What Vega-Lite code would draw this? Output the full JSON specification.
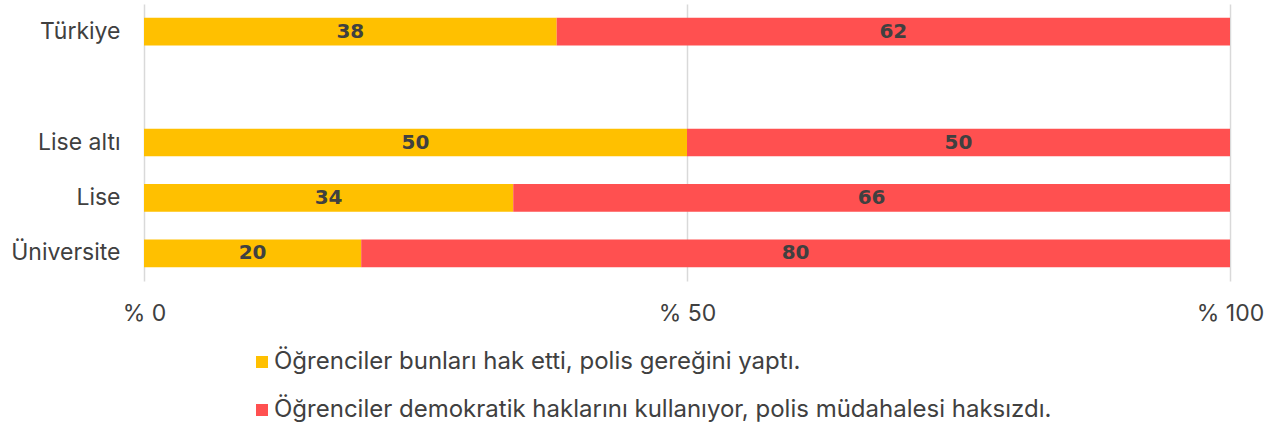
{
  "$schema": "https://vega.github.io/schema/vega-lite/v6.json",
  "width": 1086,
  "height": 277,
  "autosize": {"type": "none"},
  "padding": {"left": 144, "top": 4, "right": 57, "bottom": 148},
  "background": "white",
  "config": {
    "view": {"stroke": null},
    "font": "Inter",
    "axis": {"labelColor": "#404040", "labelFontSize": 23, "labelFont": "Inter"},
    "legend": {"labelColor": "#404040", "labelFontSize": 24, "labelFont": "Inter"}
  },
  "data": {
    "values": [
      {"grup": "Türkiye", "cevap": "Öğrenciler bunları hak etti, polis gereğini yaptı.", "deger": 38},
      {"grup": "Türkiye", "cevap": "Öğrenciler demokratik haklarını kullanıyor, polis müdahalesi haksızdı.", "deger": 62},
      {"grup": "Lise altı", "cevap": "Öğrenciler bunları hak etti, polis gereğini yaptı.", "deger": 50},
      {"grup": "Lise altı", "cevap": "Öğrenciler demokratik haklarını kullanıyor, polis müdahalesi haksızdı.", "deger": 50},
      {"grup": "Lise", "cevap": "Öğrenciler bunları hak etti, polis gereğini yaptı.", "deger": 34},
      {"grup": "Lise", "cevap": "Öğrenciler demokratik haklarını kullanıyor, polis müdahalesi haksızdı.", "deger": 66},
      {"grup": "Üniversite", "cevap": "Öğrenciler bunları hak etti, polis gereğini yaptı.", "deger": 20},
      {"grup": "Üniversite", "cevap": "Öğrenciler demokratik haklarını kullanıyor, polis müdahalesi haksızdı.", "deger": 80}
    ]
  },
  "transform": [
    {"stack": "deger", "groupby": ["grup"], "sort": [{"field": "cevap", "order": "ascending"}], "as": ["bas", "son"]},
    {"calculate": "(datum.bas + datum.son) / 2", "as": "orta"}
  ],
  "encoding": {
    "y": {
      "field": "grup",
      "type": "nominal",
      "scale": {"domain": ["Türkiye", " ", "Lise altı", "Lise", "Üniversite"], "paddingInner": 0.5, "paddingOuter": 0.25},
      "axis": {"title": null, "ticks": false, "domain": false, "labelPadding": 24}
    }
  },
  "layer": [
    {
      "mark": {"type": "bar"},
      "encoding": {
        "x": {
          "field": "bas",
          "type": "quantitative",
          "scale": {"domain": [0, 100]},
          "axis": {
            "title": null,
            "values": [0, 50, 100],
            "labelExpr": "'% ' + datum.value",
            "labelFlush": false,
            "labelBound": false,
            "labelOverlap": false,
            "ticks": false,
            "domain": false,
            "grid": true,
            "gridColor": "#d9d9d9",
            "gridWidth": 1.5,
            "labelPadding": 21
          }
        },
        "x2": {"field": "son"},
        "color": {
          "field": "cevap",
          "type": "nominal",
          "scale": {
            "domain": ["Öğrenciler bunları hak etti, polis gereğini yaptı.", "Öğrenciler demokratik haklarını kullanıyor, polis müdahalesi haksızdı."],
            "range": ["#FFC000", "#FF5050"]
          },
          "legend": {
            "title": null,
            "orient": "none",
            "legendX": 106,
            "legendY": 346,
            "direction": "vertical",
            "symbolType": "square",
            "symbolSize": 144,
            "symbolStrokeWidth": 0,
            "labelLimit": 1000,
            "rowPadding": 24,
            "labelOffset": 0
          }
        }
      }
    },
    {
      "mark": {"type": "text", "font": "DejaVu Sans", "fontWeight": "bold", "fontSize": 20, "color": "#404040", "baseline": "middle", "align": "center"},
      "encoding": {
        "x": {"field": "orta", "type": "quantitative"},
        "text": {"field": "deger", "type": "quantitative"}
      }
    }
  ]
}
